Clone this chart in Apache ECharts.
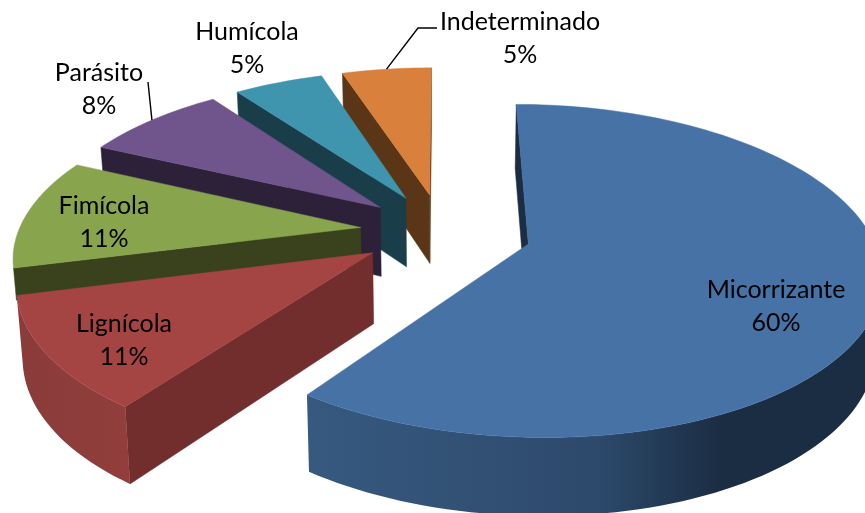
<!DOCTYPE html>
<html>
<head>
<meta charset="utf-8">
<style>html,body{margin:0;padding:0;background:#fff}#c{width:865px;height:513px}</style>
<script src="https://cdn.jsdelivr.net/npm/echarts@6/dist/echarts.min.js"></script>
</head>
<body>
<div id="c"></div>
<script>
// Data
const categories = ['Micorrizante','Lignícola','Fimícola','Parásito','Humícola','Indeterminado'];
const percentages = [60,11,11,8,5,5];

// Styles
const topColors  = ['#4672a6','#a54543','#88a54e','#70558c','#3f95ae','#d8803c'];
const sideColors = ['#1b2d43','#722e2d','#39421d','#2c2138','#1a3d4a','#5b3616'];
const wallStops  = [
  [[0,'#37597f'],[0.5,'#2d4a6c'],[0.72,'#1b2d43'],[1,'#1b2d43']],
  [[0,'#8a3c3a'],[1,'#913e3c']],
  [[0,'#39421d'],[1,'#39421d']],
  [[0,'#2c2138'],[1,'#2c2138']],
  [[0,'#1a3d4a'],[1,'#1a3d4a']],
  [[0,'#5b3616'],[1,'#5b3616']]
];

// 3-D view of the pie
const view = {cx:442, cy:231, R:342, Rt:158, perspX:0.16, perspY:0.16, perspZ:0.1, depth:70, shrink:0.015};
const explode = [0.262,0.24,0.24,0.24,0.24,0.24];
const wallDepth = [1,1,0.45,1,1,1];

// Label layout (centre of the two-line text)
const labelCenters = [[776,306],[124,340],[104,222],[99,89],[247,48],[520,38]];
const leaderEnds = [null,null,null,[[148,82]],null,[[418,28],[437,28]]];

const total = percentages.reduce((a,b)=>a+b,0);
const starts = [];
percentages.reduce((acc,v,i)=>{starts[i]=acc;return acc+v;},0);
const DEG = Math.PI*2/total;

function project(X,Y,z){
  const wx = 1/(1-view.perspX*Y), wy = 1/(1-view.perspY*Y), wz = 1/(1-view.perspZ*Y);
  return [view.cx+view.R*X*wx*(1-view.shrink*z), view.cy+view.Rt*Y*wy+view.depth*z*wz];
}
function area(poly){
  let s=0;
  for(let i=0;i<poly.length;i++){const a=poly[i],b=poly[(i+1)%poly.length];s+=a[0]*b[1]-b[0]*a[1];}
  return s/2;
}
function sliceGeom(i){
  const a0=starts[i]*DEG, a1=(starts[i]+percentages[i])*DEG, mid=(a0+a1)/2;
  const ox=explode[i]*Math.sin(mid), oy=-explode[i]*Math.cos(mid);
  const n=Math.max(4,Math.round((a1-a0)/0.03));
  const rim=[];
  for(let k=0;k<=n;k++){
    const a=a0+(a1-a0)*k/n;
    rim.push([ox+Math.sin(a),oy-Math.cos(a)]);
  }
  return {apex:[ox,oy],rim,mid,ox,oy};
}
function renderSlice(params,api){
  const idx=api.value(1);
  const g=sliceGeom(idx);
  const dz=wallDepth[idx];
  const children=[];
  const topPoly=[project(g.apex[0],g.apex[1],0)].concat(g.rim.map(p=>project(p[0],p[1],0)));
  // side (radial) walls, only where they face the viewer
  [[g.rim[0],g.apex],[g.apex,g.rim[g.rim.length-1]]].forEach(e=>{
    const poly=[project(e[0][0],e[0][1],0),project(e[1][0],e[1][1],0),project(e[1][0],e[1][1],dz),project(e[0][0],e[0][1],dz)];
    if(area(poly)>0){
      children.push({type:'polygon',shape:{points:poly},style:{fill:sideColors[idx],stroke:sideColors[idx],lineWidth:0.5},silent:true});
    }
  });
  // outer curved wall
  const up=[],down=[];
  for(let k=0;k<g.rim.length-1;k++){
    const a=g.rim[k],b=g.rim[k+1];
    const q=[project(a[0],a[1],0),project(b[0],b[1],0),project(b[0],b[1],dz),project(a[0],a[1],dz)];
    if(area(q)<0){
      if(!up.length){up.push(q[0]);down.push(q[3]);}
      up.push(q[1]);down.push(q[2]);
    }
  }
  if(up.length){
    const poly=up.concat(down.reverse());
    const xs=poly.map(p=>p[0]);
    const x0=Math.min.apply(null,xs),x1=Math.max.apply(null,xs);
    children.push({type:'polygon',shape:{points:poly},style:{
      fill:{type:'linear',x:x0,y:0,x2:x1,y2:0,global:true,colorStops:wallStops[idx].map(s=>({offset:s[0],color:s[1]}))}
    },silent:true});
  }
  children.push({type:'polygon',shape:{points:topPoly},style:{fill:topColors[idx],stroke:topColors[idx],lineWidth:0.5},silent:true});
  // leader line
  if(leaderEnds[idx]){
    const m=[g.ox+Math.sin(g.mid),g.oy-Math.cos(g.mid)];
    const pts=[project(m[0],m[1],0)].concat(leaderEnds[idx]);
    children.push({type:'polyline',shape:{points:pts},style:{fill:'none',stroke:'#000',lineWidth:1.4},silent:true});
  }
  // label
  const c=labelCenters[idx];
  children.push({type:'text',x:c[0],y:c[1],z2:10,silent:true,style:{
    text:categories[idx]+'\n'+api.value(0)+'%',
    x:0,y:0,align:'center',verticalAlign:'middle',
    font:'25px Lato',lineHeight:33,fill:'#000'
  }});
  return {type:'group',children};
}

// painted from the back of the pie to the front
const drawOrder=[5,4,3,2,1,0];
const chart=echarts.init(document.getElementById('c'),null,{renderer:'canvas'});
chart.setOption({
  animation:false,
  series:[{
    type:'custom',
    coordinateSystem:'none',
    renderItem:renderSlice,
    data:drawOrder.map(i=>({name:categories[i],value:[percentages[i],i]}))
  }]
});
</script>
</body>
</html>
